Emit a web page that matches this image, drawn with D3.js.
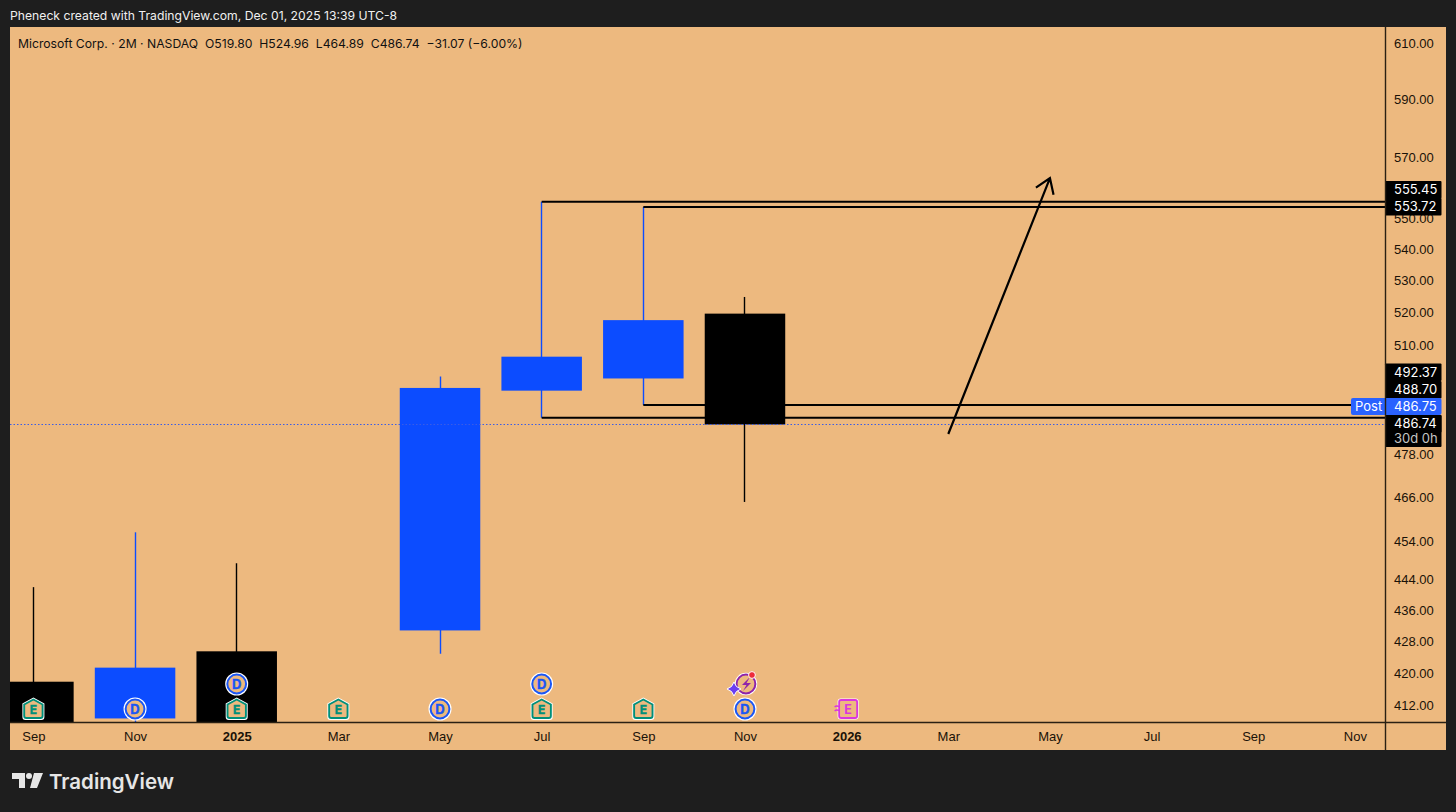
<!DOCTYPE html>
<html>
<head>
<meta charset="utf-8">
<title>MSFT 2M</title>
<script src="https://cdn.jsdelivr.net/npm/d3@7"></script>
<style>
  html, body { margin: 0; padding: 0; background: #1e1e1e; }
  svg { display: block; font-family: Inter, Roboto, sans-serif; }
</style>
</head>
<body>
<svg id="chart" width="1456" height="812"></svg>
<script>
// bar labels, two months per bar
const timeLabels = ['Sep', 'Nov', '2025', 'Mar', 'May', 'Jul', 'Sep', 'Nov', '2026', 'Mar', 'May', 'Jul', 'Sep', 'Nov'];
const boldLabels = ['2025', '2026'];

// candles (the first bars close below the pane)
const barIndex = [0, 1, 2, 3, 4, 5, 6, 7];
const opens = [417.9, 408.9, 425.5, 399.0, 430.8, 496.6, 500.2, 519.8];
const highs = [442.0, 456.6, 448.3, 402.0, 500.8, 555.45, 553.72, 524.96];
const lows = [385.6, 405.0, 381.0, 344.8, 424.9, 488.7, 492.37, 464.89];
const closes = [406.3, 421.4, 397.0, 375.4, 497.4, 506.7, 517.8, 486.74];

const priceTicks = [610, 590, 570, 550, 540, 530, 520, 510, 478, 466, 454, 444, 436, 428, 420, 412];

// drawn levels: starting bar and price
const levelBars = [5, 5, 6, 6];
const levelPrices = [555.45, 488.70, 553.72, 492.37];

// arrow drawing
const arrowBars = [9, 10];
const arrowPrices = [484.0, 563.3];

// event markers on the bottom of the pane
const eventBars = [0, 2, 3, 5, 6, 1, 4, 7, 2, 5, 8, 7];
const eventKinds = ['E', 'E', 'E', 'E', 'E', 'D', 'D', 'D', 'D', 'D', 'N', 'S'];
const eventRows = [0, 0, 0, 0, 0, 0, 0, 0, 1, 1, 0, 1];

const lastPrice = 486.74;
const headerText = 'Microsoft Corp. · 2M · NASDAQ  O519.80  H524.96  L464.89  C486.74  −31.07 (−6.00%)';
const creditText = 'Pheneck created with TradingView.com, Dec 01, 2025 13:39 UTC-8';

// axis price tags
const tagLabels = ['555.45', '553.72', '492.37', '488.70', '486.74'];
const tagCentres = [189.5, 206.5, 372, 389.5, 423.5];

const paneBg = '#edb97f';
const blue = '#0c4cff';
const black = '#000000';
const lineDark = '#2a2013';
const paneLeft = 10, paneRight = 1385, axisRight = 1446, paneTop = 27, paneBottom = 722, timeBottom = 750;

const svg = d3.select('#chart');

const x = d3.scaleLinear().domain([0, 13]).range([33.4, 1354.9]);
const y = d3.scaleLog().domain([412, 610]).range([705.7, 43.7]);
const barWidth = 80.5;

svg.append('rect').attr('x', paneLeft).attr('y', paneTop)
  .attr('width', axisRight - paneLeft).attr('height', timeBottom - paneTop)
  .attr('fill', paneBg);

svg.append('clipPath').attr('id', 'pane').append('rect')
  .attr('x', paneLeft).attr('y', paneTop)
  .attr('width', paneRight - paneLeft).attr('height', paneBottom - paneTop);

const pane = svg.append('g').attr('clip-path', 'url(#pane)');

// wicks
const colorOf = i => closes[i] >= opens[i] ? blue : black;
pane.selectAll('.wick').data(barIndex).join('line')
  .attr('class', 'wick')
  .attr('x1', i => Math.floor(x(i)) + 0.5).attr('x2', i => Math.floor(x(i)) + 0.5)
  .attr('y1', i => y(highs[i])).attr('y2', i => y(lows[i]))
  .attr('stroke', colorOf).attr('stroke-width', 1.4);

// levels go under the bodies
pane.selectAll('.level').data(levelPrices).join('line')
  .attr('class', 'level')
  .attr('x1', (d, i) => x(levelBars[i])).attr('x2', paneRight)
  .attr('y1', d => y(d)).attr('y2', d => y(d))
  .attr('stroke', black).attr('stroke-width', 2);

// bodies
pane.selectAll('.body').data(barIndex).join('rect')
  .attr('class', 'body')
  .attr('x', i => x(i) - barWidth / 2).attr('width', barWidth)
  .attr('y', i => y(Math.max(opens[i], closes[i])))
  .attr('height', i => y(Math.min(opens[i], closes[i])) - y(Math.max(opens[i], closes[i])))
  .attr('fill', colorOf);

// last price dotted line, over the bodies
pane.append('line')
  .attr('x1', paneLeft).attr('x2', paneRight)
  .attr('y1', Math.round(y(lastPrice)) + 0.5).attr('y2', Math.round(y(lastPrice)) + 0.5)
  .attr('stroke', '#3a5ce6').attr('stroke-width', 1).attr('stroke-dasharray', '1.5 2');

// arrow
const ax0 = x(arrowBars[0]), ay0 = y(arrowPrices[0]);
const ax1 = x(arrowBars[1]), ay1 = y(arrowPrices[1]);
const ang = Math.atan2(ay1 - ay0, ax1 - ax0);
const headLen = 17;
const arrow = d3.path();
arrow.moveTo(ax0, ay0);
arrow.lineTo(ax1, ay1);
arrow.moveTo(ax1 + headLen * Math.cos(ang + 2.55), ay1 + headLen * Math.sin(ang + 2.55));
arrow.lineTo(ax1, ay1);
arrow.lineTo(ax1 + headLen * Math.cos(ang - 2.55), ay1 + headLen * Math.sin(ang - 2.55));
pane.append('path').attr('d', arrow.toString())
  .attr('fill', 'none').attr('stroke', black).attr('stroke-width', 2.2);

// event markers
const rowY = [709, 684];
const marker = pane.selectAll('.event').data(eventBars).join('g')
  .attr('class', 'event')
  .attr('transform', (d, i) => `translate(${x(d)},${rowY[eventRows[i]]})`);

marker.each(function (d, i) {
  const g = d3.select(this);
  const kind = eventKinds[i];
  if (kind === 'E') {
    g.append('path').attr('d', 'M0,-11.5 L11,-5.5 V8 a3,3 0 0 1 -3,3 H-8 a3,3 0 0 1 -3,-3 V-5.5 Z').attr('fill', '#fff');
    g.append('path').attr('d', 'M0,-9.5 L9.2,-4.5 V7 a2,2 0 0 1 -2,2 H-7.2 a2,2 0 0 1 -2,-2 V-4.5 Z')
      .attr('fill', paneBg).attr('stroke', '#008f7a').attr('stroke-width', 1.9);
    g.append('text').text('E').attr('y', 5).attr('text-anchor', 'middle')
      .attr('font-size', 12).attr('font-weight', 700).attr('fill', '#008f7a')
      .attr('stroke', '#008f7a').attr('stroke-width', 0.4);
  } else if (kind === 'D') {
    g.append('circle').attr('r', 11.5).attr('fill', '#fff');
    g.append('circle').attr('r', 9.4).attr('fill', paneBg).attr('stroke', '#1a56f5').attr('stroke-width', 2);
    g.append('text').text('D').attr('y', 4.7).attr('text-anchor', 'middle')
      .attr('font-size', 13).attr('font-weight', 700).attr('fill', '#1a56f5')
      .attr('stroke', '#1a56f5').attr('stroke-width', 0.4);
  } else if (kind === 'N') {
    g.append('rect').attr('x', -9).attr('y', -10.5).attr('width', 21).attr('height', 21).attr('rx', 3).attr('fill', '#fff');
    g.append('rect').attr('x', -7.5).attr('y', -9).attr('width', 18).attr('height', 18).attr('rx', 2)
      .attr('fill', paneBg).attr('stroke', '#d936e0').attr('stroke-width', 1.8);
    g.append('text').text('E').attr('x', 1.5).attr('y', 5).attr('text-anchor', 'middle')
      .attr('font-size', 12.5).attr('font-weight', 700).attr('fill', '#d936e0');
    g.append('path').attr('d', 'M-12,-2 q2,-2 5,0 M-12,2 q2,-2 5,0').attr('fill', 'none')
      .attr('stroke', '#d936e0').attr('stroke-width', 1.3);
  } else {
    g.append('circle').attr('cx', 1).attr('r', 11.2).attr('fill', '#fff');
    g.append('circle').attr('cx', 1).attr('r', 9.4).attr('fill', paneBg).attr('stroke', '#8e24aa').attr('stroke-width', 2);
    g.append('path').attr('d', 'M5,-7 L-3,1 H1.5 L-2,7 L6,-1 H1.5 Z').attr('fill', '#8e24aa');
    g.append('path').attr('d', 'M-13,-1 L-10.5,3.5 L-6,6 L-10.5,8.5 L-13,13 L-15.5,8.5 L-20,6 L-15.5,3.5 Z')
      .attr('transform', 'translate(2,-1)').attr('fill', '#6a3df0').attr('stroke', '#fff').attr('stroke-width', 1);
    g.append('circle').attr('cx', 7).attr('cy', -9).attr('r', 3.4).attr('fill', '#ee2b3b').attr('stroke', '#fff').attr('stroke-width', 1);
  }
});

// price axis
const priceAxis = svg.append('g').attr('transform', `translate(${paneRight},-0.3)`)
  .call(d3.axisRight(y).tickValues(priceTicks).tickSize(0).tickPadding(9).tickFormat(d3.format('.2f')));
priceAxis.select('.domain').remove();
priceAxis.selectAll('text').attr('font-size', 13).attr('font-family', 'inherit').attr('fill', '#1a1208');

// time axis
const timeAxis = svg.append('g').attr('transform', `translate(0,${paneBottom})`)
  .call(d3.axisBottom(x).tickValues(d3.range(timeLabels.length)).tickSize(0).tickPadding(10).tickFormat(i => timeLabels[i]));
timeAxis.select('.domain').remove();
timeAxis.selectAll('text').attr('font-size', 13).attr('font-family', 'inherit').attr('fill', '#1a1208')
  .attr('font-weight', i => boldLabels.includes(timeLabels[i]) ? 700 : 400);

// price tags on the axis
const tagW = 56.5;
svg.selectAll('.tag').data(tagLabels).join('rect')
  .attr('class', 'tag')
  .attr('x', paneRight).attr('y', (d, i) => tagCentres[i] - 8.5)
  .attr('width', tagW).attr('height', 17.5).attr('rx', 1).attr('fill', black);
svg.append('rect').attr('x', paneRight).attr('y', 415).attr('width', tagW).attr('height', 32).attr('rx', 1).attr('fill', black);

// post market tag
svg.append('rect').attr('x', 1351).attr('y', 398).attr('width', 90.5).attr('height', 17).attr('rx', 2).attr('fill', '#2962ff');

svg.selectAll('.tagText').data(tagLabels).join('text')
  .attr('class', 'tagText')
  .attr('x', paneRight + 9).attr('y', (d, i) => tagCentres[i] + 4.5)
  .attr('font-size', 13).attr('fill', '#fff').text(d => d);
svg.append('text').attr('x', paneRight + 9).attr('y', 443).attr('font-size', 13).attr('fill', '#c4c4c4').text('30d 0h');
svg.append('text').attr('x', 1355).attr('y', 411).attr('font-size', 13).attr('fill', '#fff').text('Post');
svg.append('text').attr('x', paneRight + 9).attr('y', 411).attr('font-size', 13).attr('fill', '#fff').text('486.75');

// frame lines
svg.append('line').attr('x1', paneRight + 0.5).attr('x2', paneRight + 0.5).attr('y1', paneTop).attr('y2', timeBottom)
  .attr('stroke', lineDark).attr('stroke-width', 1.4);
svg.append('line').attr('x1', paneLeft).attr('x2', axisRight).attr('y1', paneBottom + 0.5).attr('y2', paneBottom + 0.5)
  .attr('stroke', lineDark).attr('stroke-width', 1.4);

// header texts
svg.append('text').attr('x', 18).attr('y', 48).attr('font-size', 12.2).attr('fill', '#111')
  .attr('xml:space', 'preserve').style('white-space', 'pre').text(headerText);
svg.append('text').attr('x', 10).attr('y', 20).attr('font-size', 12.2).attr('fill', '#f0f0f0').text(creditText);

// logo
const logo = svg.append('g').attr('transform', 'translate(12,773)').attr('fill', '#e6e6e6');
logo.append('path').attr('d', 'M0,0 H13 V15 H7 V6 H0 Z');
logo.append('circle').attr('cx', 17).attr('cy', 3).attr('r', 3);
logo.append('path').attr('d', 'M22,0 H31 L25,15 H18 Z');
svg.append('text').attr('x', 49).attr('y', 789).attr('font-size', 20.5).attr('font-weight', 600).attr('fill', '#e6e6e6').text('TradingView');
</script>
</body>
</html>
